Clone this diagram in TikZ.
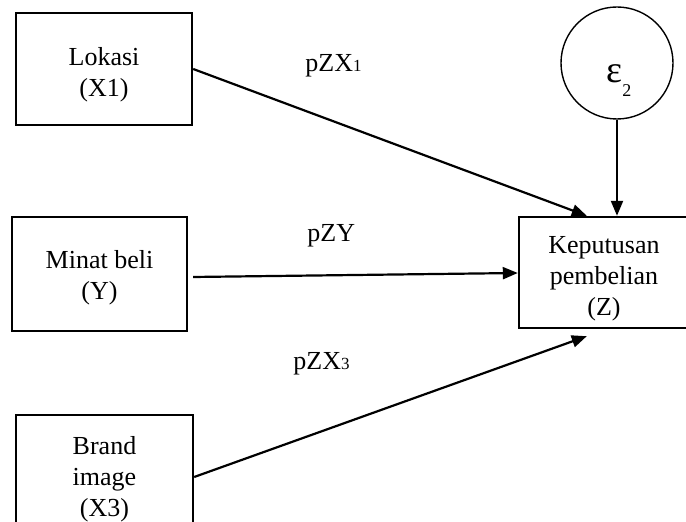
\documentclass[tikz,border=0pt]{standalone}
\usepackage{fontspec}
\setmainfont{Liberation Serif}
\usetikzlibrary{calc, arrows.meta}

\begin{document}
\begin{tikzpicture}[x = 0.5pt, y = -0.5pt,
        varbox/.style = {draw, line width = 1.2pt, align = center, inner sep = 0pt, font = \fontsize{13}{15.5}\selectfont},
        link/.style = {line width = 1.1pt, -{Triangle[length = 7.5pt, width = 6pt]}},
        coef/.style = {anchor = base west, inner sep = 0pt, font = \fontsize{13}{15}\selectfont}]
            \useasboundingbox (0, 0) rectangle (686, 522);
            \clip (0, 0) rectangle (686, 522);
            
            \node[varbox, minimum width = 88pt, minimum height = 56pt] (lokasi) at (104, 69) {\rule{0pt}{15pt}Lokasi\\(X1)};
            \node[varbox, minimum width = 87.5pt, minimum height = 57pt] (minat) at (99.5, 274) {\rule{0pt}{13pt}Minat beli\\(Y)};
            \node[varbox, minimum width = 88.5pt, minimum height = 62pt] (brand) at (104.5, 477) {\rule{0pt}{11pt}Brand\\image\\ (X3)};
            \node[varbox, minimum width = 85pt, minimum height = 55.5pt] (keputusan) at (604, 272.5) {\rule{0pt}{14.5pt}Keputusan\\pembelian\\ (Z)};
            
            \node[draw, circle, line width = 0.7pt, minimum size = 56pt, inner sep = 0pt] (error) at (617, 63) {};
            \node[inner sep = 0pt] (error_text) at (619, 81) {\fontsize{19}{19}\selectfont ε\raisebox{-7pt}{\fontsize{9}{9}\selectfont 2}};
            
            \draw[link](lokasi.east) -- ($(keputusan.north west) + (69, 0)$);
            \draw[link](error.south) -- (error.south |- keputusan.north);
            \draw[link]($(minat.east) + (5, 3)$) -- ($(keputusan.west) + (0, 0.5)$);
            \draw[link](brand.east) -- ($(keputusan.south west) + (69, 7)$);
            
            \node[coef] (coef_lokasi) at (305, 72) {pZX{\fontsize{8.5}{9}\selectfont 1}};
            \node[coef] (coef_minat) at (307, 242) {pZY};
            \node[coef] (coef_brand) at (293, 370) {pZX{\fontsize{8.5}{9}\selectfont 3}};
        \end{tikzpicture}
\end{document}
